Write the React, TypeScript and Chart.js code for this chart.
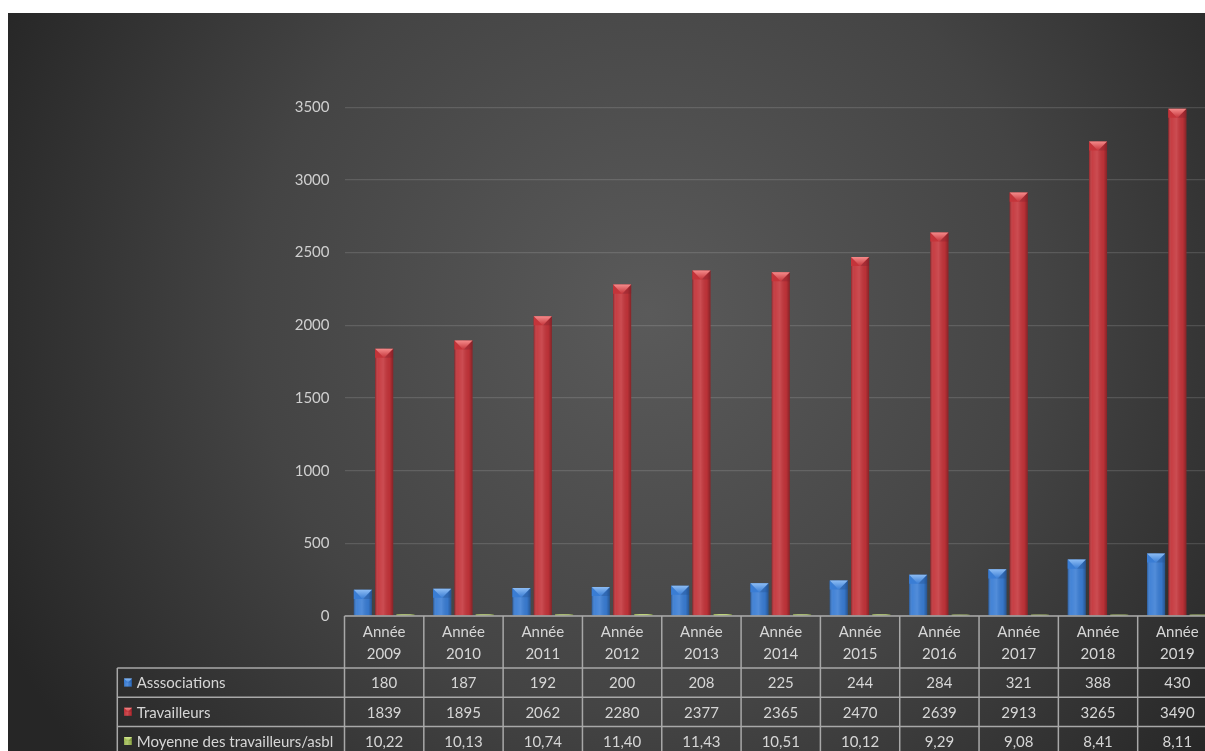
import React, { useEffect, useRef } from 'react';
import { Chart, registerables } from 'chart.js';

Chart.register(...registerables);

const yearLabels = ['2009', '2010', '2011', '2012', '2013', '2014', '2015', '2016', '2017', '2018', '2019'];
const headerWord = 'Année';
const associations = [180, 187, 192, 200, 208, 225, 244, 284, 321, 388, 430];
const travailleurs = [1839, 1895, 2062, 2280, 2377, 2365, 2470, 2639, 2913, 3265, 3490];
const moyenne = [10.22, 10.13, 10.74, 11.4, 11.43, 10.51, 10.12, 9.29, 9.08, 8.41, 8.11];
const seriesNames = ['Asssociations', 'Travailleurs', 'Moyenne des travailleurs/asbl'];
const yMin = 0;
const yMax = 3500;
const yStep = 500;

const FONT = 'Lato, "Open Sans", sans-serif';
const TEXT = '#d6d6d6';
const PALETTE = [
  { base: '#3a7dd4', light: '#8cbcf4', dark: '#22508f' },
  { base: '#c4343a', light: '#f58a8a', dark: '#84202a' },
  { base: '#a2bd58', light: '#d4e890', dark: '#6a8030' },
];

const fmt = (v: number, i: number) => (i === 2 ? v.toFixed(2).replace('.', ',') : String(v));

function drawBevel(ctx: CanvasRenderingContext2D, x0: number, top: number, w: number, h: number, c: { base: string; light: string; dark: string }) {
  if (h <= 0) return;
  const x1 = x0 + w;
  const cx = x0 + w / 2;
  const g = ctx.createLinearGradient(x0, 0, x1, 0);
  g.addColorStop(0, 'rgba(0,0,0,0.28)');
  g.addColorStop(0.18, 'rgba(255,255,255,0.05)');
  g.addColorStop(0.45, 'rgba(255,255,255,0.12)');
  g.addColorStop(0.8, 'rgba(0,0,0,0.05)');
  g.addColorStop(1, 'rgba(0,0,0,0.32)');
  ctx.fillStyle = g;
  ctx.fillRect(x0, top, w, h);
  const capH = Math.min(w * 0.5, h);
  ctx.fillStyle = c.base;
  ctx.beginPath();
  ctx.moveTo(x0, top);
  ctx.lineTo(cx, top + capH);
  ctx.lineTo(x0, top + capH);
  ctx.closePath();
  ctx.fill();
  ctx.fillStyle = c.dark;
  ctx.globalAlpha = 0.35;
  ctx.beginPath();
  ctx.moveTo(x1, top);
  ctx.lineTo(cx, top + capH);
  ctx.lineTo(x1, top + capH);
  ctx.closePath();
  ctx.fill();
  ctx.globalAlpha = 1;
  const tg = ctx.createLinearGradient(0, top, 0, top + capH);
  tg.addColorStop(0, c.light);
  tg.addColorStop(1, c.base);
  ctx.fillStyle = tg;
  ctx.beginPath();
  ctx.moveTo(x0, top);
  ctx.lineTo(x1, top);
  ctx.lineTo(cx, top + capH);
  ctx.closePath();
  ctx.fill();
}

const bgPlugin = {
  id: 'bg',
  beforeDraw(chart: any) {
    const { ctx, width, height } = chart;
    ctx.save();
    const g = ctx.createRadialGradient(640, 300, 0, 640, 300, 720);
    g.addColorStop(0, '#5a5a5a');
    g.addColorStop(0.55, '#444444');
    g.addColorStop(1, '#262626');
    ctx.fillStyle = g;
    ctx.fillRect(0, 0, width, height);
    ctx.restore();
  },
};

const bevelPlugin = {
  id: 'bevel',
  afterDatasetsDraw(chart: any) {
    const ctx = chart.ctx;
    ctx.save();
    chart.data.datasets.forEach((_: any, di: number) => {
      const meta = chart.getDatasetMeta(di);
      meta.data.forEach((el: any) => {
        const { x, y, base, width } = el.getProps(['x', 'y', 'base', 'width'], true);
        drawBevel(ctx, x - width / 2, y, width, base - y, PALETTE[di]);
      });
    });
    ctx.restore();
  },
};

const tablePlugin = {
  id: 'table',
  afterDraw(chart: any) {
    const { ctx, chartArea, height } = chart;
    const n = yearLabels.length;
    const left = chartArea.left;
    const right = chartArea.right;
    const colW = (right - left) / n;
    const top = chartArea.bottom;
    const headerH = 52;
    const rowH = 29.2;
    const legendLeft = 109.3;
    const rows = [associations, travailleurs, moyenne];
    ctx.save();
    ctx.strokeStyle = '#a8a8a8';
    ctx.lineWidth = 1.5;
    ctx.beginPath();
    ctx.moveTo(left, top);
    ctx.lineTo(right, top);
    for (let r = 0; r <= 3; r++) {
      const y = top + headerH + r * rowH;
      ctx.moveTo(legendLeft, y);
      ctx.lineTo(right, y);
    }
    ctx.moveTo(legendLeft, top + headerH);
    ctx.lineTo(legendLeft, height + 5);
    for (let i = 0; i <= n; i++) {
      const x = left + i * colW;
      ctx.moveTo(x, top);
      ctx.lineTo(x, height + 5);
    }
    ctx.stroke();

    ctx.fillStyle = TEXT;
    ctx.font = `15px ${FONT}`;
    ctx.textAlign = 'center';
    ctx.textBaseline = 'middle';
    for (let i = 0; i < n; i++) {
      const cx = chart.scales.x.getPixelForValue(i);
      ctx.fillText(headerWord, cx, top + 16);
      ctx.fillText(yearLabels[i], cx, top + 38);
      rows.forEach((vals, r) => {
        ctx.fillText(fmt(vals[i], r), cx, top + headerH + r * rowH + rowH / 2 + 1);
      });
    }
    ctx.textAlign = 'left';
    seriesNames.forEach((name, r) => {
      const cy = top + headerH + r * rowH + rowH / 2;
      const mx = 116;
      const ms = 8;
      ctx.fillStyle = PALETTE[r].base;
      ctx.fillRect(mx, cy - ms / 2, ms, ms);
      drawBevel(ctx, mx, cy - ms / 2, ms, ms, PALETTE[r]);
      ctx.fillStyle = TEXT;
      ctx.fillText(name, 128.7, cy + 1);
    });
    ctx.restore();
  },
};

export default function App() {
  const ref = useRef<HTMLCanvasElement | null>(null);
  useEffect(() => {
    if (!ref.current) return;
    const chart = new Chart(ref.current, {
      type: 'bar',
      data: {
        labels: yearLabels.map((y) => `${headerWord} ${y}`),
        datasets: [
          { label: seriesNames[0], data: associations, backgroundColor: PALETTE[0].base, borderWidth: 0 },
          { label: seriesNames[1], data: travailleurs, backgroundColor: PALETTE[1].base, borderWidth: 0 },
          { label: seriesNames[2], data: moyenne, backgroundColor: PALETTE[2].base, borderWidth: 0 },
        ],
      },
      options: {
        responsive: false,
        animation: false,
        devicePixelRatio: 1,
        layout: { padding: { top: 94.3, bottom: 135, left: 0, right: 0 } },
        datasets: { bar: { categoryPercentage: 0.805, barPercentage: 0.85 } },
        plugins: { legend: { display: false }, tooltip: { enabled: false } },
        scales: {
          x: { display: false },
          y: {
            min: yMin,
            max: yMax,
            ticks: {
              stepSize: yStep,
              color: '#cfcfcf',
              font: { family: FONT, size: 15 },
              padding: 15,
              callback: (v: any) => String(v),
            },
            grid: { color: 'rgba(255,255,255,0.13)', drawTicks: false, lineWidth: 1.2 },
            border: { display: false },
            afterFit: (s: any) => {
              s.width = 336.5;
            },
          },
        },
      },
      plugins: [bgPlugin, bevelPlugin, tablePlugin],
    });
    return () => chart.destroy();
  }, []);
  return (
    <div style={{ position: 'absolute', left: 8, top: 13, width: 1197, height: 738, overflow: 'hidden' }}>
      <canvas ref={ref} width={1209} height={738} style={{ display: 'block', width: 1209, height: 738 }} />
    </div>
  );
}
